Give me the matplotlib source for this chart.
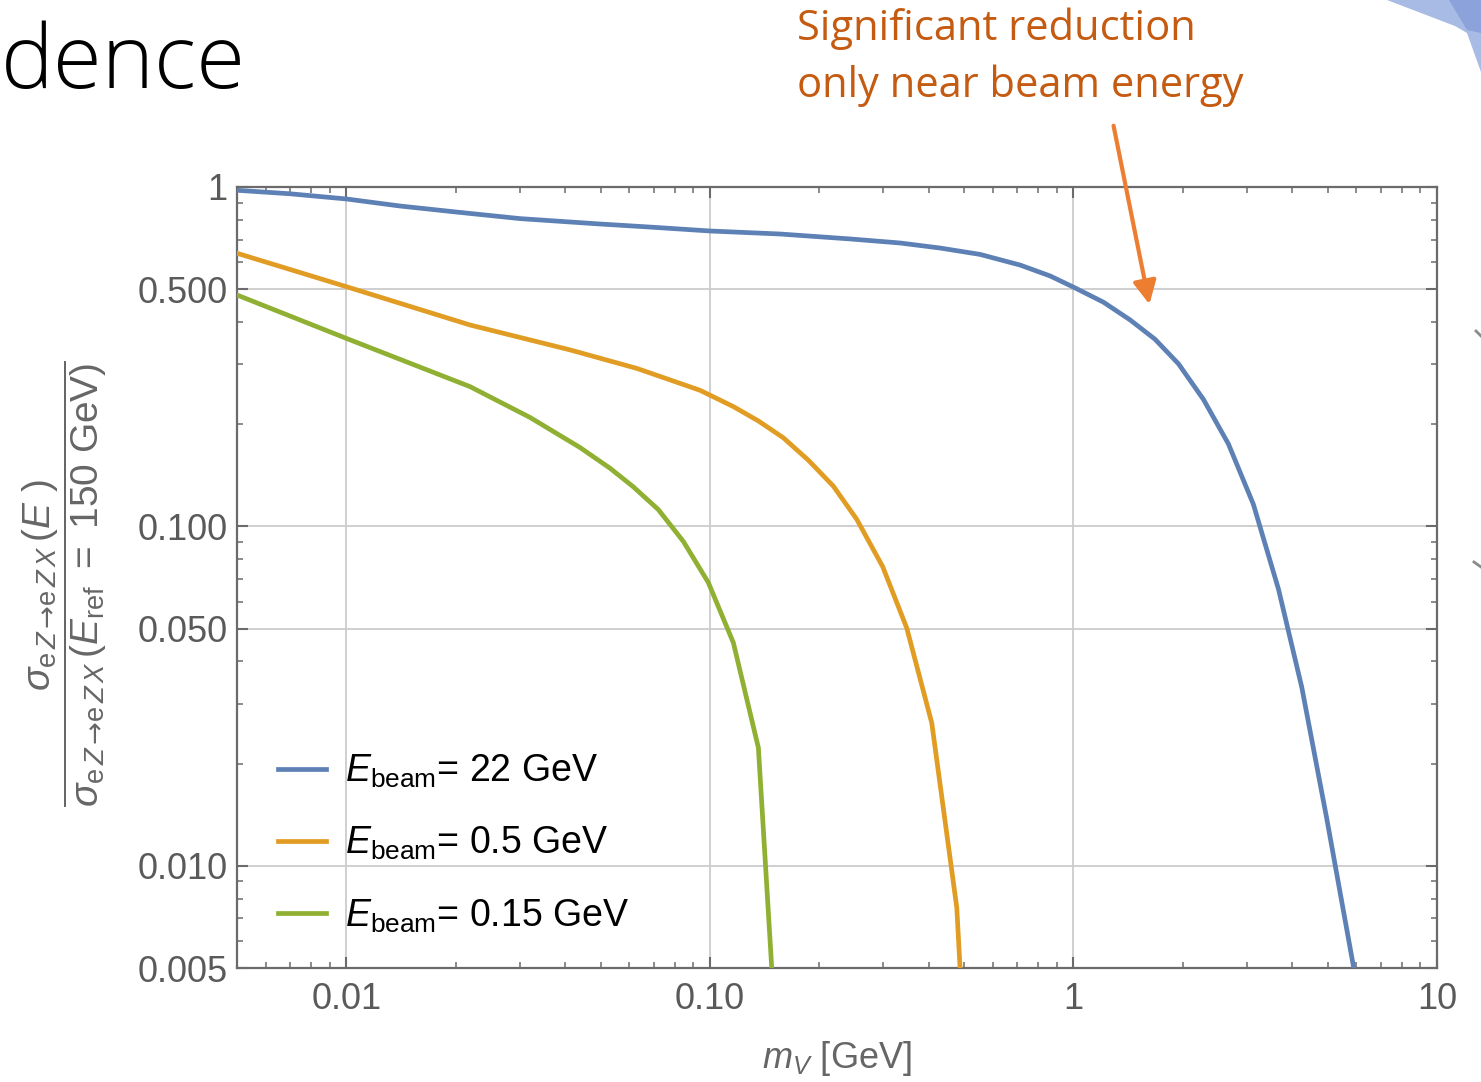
import matplotlib
matplotlib.use("Agg")
import matplotlib.pyplot as plt
from matplotlib.ticker import FixedLocator, FixedFormatter, NullFormatter
from matplotlib.patches import Polygon, FancyArrowPatch
from matplotlib.lines import Line2D

plt.rcParams['font.family'] = ['Liberation Sans', 'DejaVu Sans']
plt.rcParams['mathtext.fontset'] = 'custom'
plt.rcParams['mathtext.rm'] = 'Liberation Sans'
plt.rcParams['mathtext.it'] = 'Liberation Sans:italic'
plt.rcParams['mathtext.bf'] = 'Liberation Sans:bold'
plt.rcParams['mathtext.sf'] = 'DejaVu Sans'

# ---------------- data ----------------
blue_x = [0.005, 0.007, 0.01, 0.01404, 0.02002, 0.03002, 0.04984, 0.0684, 0.1, 0.1558, 0.2429,
          0.3333, 0.4294, 0.5533, 0.7128, 0.8622, 1.0, 1.208, 1.431,
          1.676, 1.944, 2.277, 2.668, 3.125, 3.663, 4.246, 4.975, 5.888]
blue_y = [0.978, 0.955, 0.922, 0.879, 0.844, 0.807, 0.778, 0.762, 0.742, 0.727, 0.703,
          0.684, 0.661, 0.633, 0.589, 0.547, 0.507, 0.458, 0.406,
          0.356, 0.3015, 0.2368, 0.175, 0.1162, 0.0654, 0.0336, 0.01377, 0.00507]

orange_x = [0.005, 0.01, 0.0219, 0.0413, 0.063, 0.0939, 0.116, 0.1359, 0.1591, 0.1865, 0.2185,
            0.2533, 0.2987, 0.3478, 0.4076, 0.4775, 0.4876]
orange_y = [0.638, 0.5085, 0.392, 0.331, 0.292, 0.2518, 0.2254, 0.2045, 0.1825, 0.1567, 0.1314,
            0.105, 0.0761, 0.0502, 0.02634, 0.00753, 0.005]

green_x = [0.005, 0.01, 0.0219, 0.032, 0.0439, 0.0531, 0.0616, 0.0721, 0.0845, 0.099, 0.116,
           0.1359, 0.1479]
green_y = [0.4806, 0.358, 0.258, 0.2094, 0.1708, 0.1484, 0.1307, 0.1121, 0.0903, 0.0683, 0.0454,
           0.02228, 0.005]

series_labels = [r"$E_{\mathrm{beam}}$= 22 GeV", r"$E_{\mathrm{beam}}$= 0.5 GeV",
                 r"$E_{\mathrm{beam}}$= 0.15 GeV"]
series_colors = ["#5e81b5", "#e19c24", "#8fb032"]

x_major = [0.01, 0.1, 1, 10]
x_major_labels = ["0.01", "0.10", "1", "10"]
y_major = [0.005, 0.01, 0.05, 0.1, 0.5, 1]
y_major_labels = ["0.005", "0.010", "0.050", "0.100", "0.500", "1"]

# ---------------- figure ----------------
W, H = 1481, 1082
fig = plt.figure(figsize=(W / 100, H / 100), dpi=100)
fig.patch.set_facecolor("white")

def fx(px):
    return px / W

def fy(py):
    return 1 - py / H

ax = fig.add_axes([fx(237), fy(968), 1200 / W, 781 / H])
ax.set_xscale("log")
ax.set_yscale("log")
ax.set_xlim(0.005, 10)
ax.set_ylim(0.005, 1)

lines = []
for xs, ys, c in zip([blue_x, orange_x, green_x], [blue_y, orange_y, green_y], series_colors):
    ln, = ax.plot(xs, ys, color=c, lw=3.4, solid_joinstyle="miter", zorder=3)
    lines.append(ln)

# ticks
ax.xaxis.set_major_locator(FixedLocator(x_major))
ax.xaxis.set_major_formatter(FixedFormatter(x_major_labels))
xminor = [m * d for d in [0.001, 0.01, 0.1, 1] for m in range(2, 10) if 0.005 <= m * d <= 10]
ax.xaxis.set_minor_locator(FixedLocator(xminor))
ax.xaxis.set_minor_formatter(NullFormatter())

ax.yaxis.set_major_locator(FixedLocator(y_major))
ax.yaxis.set_major_formatter(FixedFormatter(y_major_labels))
yminor = [m * d for d in [0.001, 0.01, 0.1] for m in range(2, 10)
          if 0.005 <= m * d <= 1 and abs(m * d - 0.005) > 1e-9 and abs(m * d - 0.05) > 1e-9
          and abs(m * d - 0.5) > 1e-9]
ax.yaxis.set_minor_locator(FixedLocator(yminor))
ax.yaxis.set_minor_formatter(NullFormatter())

ax.tick_params(which="both", direction="in", top=True, right=True, colors="#6b6b6b",
               labelcolor="#5a5a5a", labelsize=26)
ax.tick_params(which="major", length=8, width=1.5)
ax.tick_params(which="minor", length=4, width=1.1)
ax.tick_params(axis="x", which="major", pad=10)
ax.tick_params(axis="y", which="major", pad=7)

for s in ax.spines.values():
    s.set_color("#6b6b6b")
    s.set_linewidth(1.6)

ax.grid(which="major", color="#cccccc", lw=1.3)
ax.set_axisbelow(True)

leg = ax.legend(lines, series_labels, loc="center left", bbox_to_anchor=(0.034, 0.159),
                frameon=False, fontsize=27, handlelength=1.28, handletextpad=0.52,
                labelspacing=0.93, borderpad=0, borderaxespad=0)
for t in leg.get_texts():
    t.set_color("black")

# axis labels
fig.text(fx(837), fy(1059), r"$m_V$ [GeV]", ha="center", va="center", fontsize=26,
         color="#666666")
ylab = (r"$\dfrac{\sigma_{\mathrm{e}\,Z\,\mathsf{→}\mathrm{e}\,Z\,X}\,(E\ )}"
        r"{\sigma_{\mathrm{e}\,Z\,\mathsf{→}\mathrm{e}\,Z\,X}\,(E_{\mathrm{ref}}\ =\ 150\ \mathrm{GeV})}$")
fig.text(fx(65), fy(584), ylab, rotation=90, ha="center", va="center", fontsize=28,
         color="#666666")

# slide decorations
fig.text(fx(1), fy(88), "dence", ha="left", va="baseline", fontsize=64, weight="light",
         family=["Open Sans", "DejaVu Sans"], color="black")
fig.text(fx(797), fy(57), "Significant reduction\nonly near beam energy", ha="left", va="center",
         fontsize=30, family=["Open Sans", "DejaVu Sans"], color="#c55a11", linespacing=1.45)
arr = FancyArrowPatch((fx(1113), fy(123)), (fx(1150), fy(307)), transform=fig.transFigure,
                      arrowstyle="-|>,head_length=14,head_width=7", color="#ed7d31", lw=3,
                      mutation_scale=1)
fig.add_artist(arr)

poly_a = Polygon([(fx(1387), fy(0)), (fx(1481), fy(0)), (fx(1481), fy(72)), (fx(1467), fy(33)),
                  (fx(1455), fy(26))], closed=True, transform=fig.transFigure,
                 facecolor="#a8bbe4", edgecolor="none")
poly_b = Polygon([(fx(1449), fy(0)), (fx(1481), fy(0)), (fx(1481), fy(33)), (fx(1467), fy(30))],
                 closed=True, transform=fig.transFigure, facecolor="#8ca2da", edgecolor="none")
fig.add_artist(poly_a)
fig.add_artist(poly_b)
for (xa, ya, xb, yb) in [(1476, 331, 1481, 336), (1474, 562, 1481, 567)]:
    fig.add_artist(Line2D([fx(xa), fx(xb)], [fy(ya), fy(yb)], transform=fig.transFigure,
                          color="#8a8a8a", lw=2))

fig.savefig("out.png", dpi=100, facecolor="white")
